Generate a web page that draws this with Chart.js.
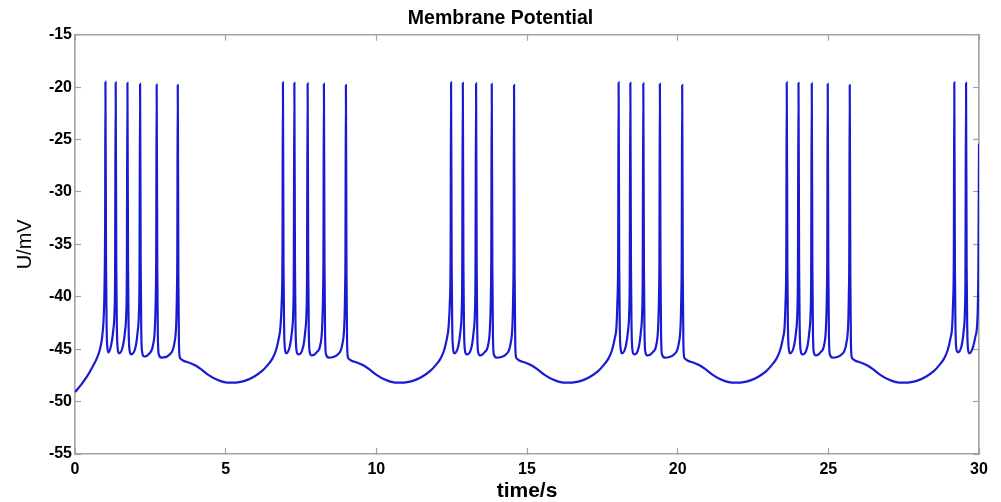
<!DOCTYPE html>
<html>
<head>
<meta charset="utf-8">
<script src="https://cdn.jsdelivr.net/npm/chart.js@4.4.1/dist/chart.umd.min.js"></script>
<style>
  html, body { margin: 0; padding: 0; background: #ffffff; }
  #wrap { width: 1001px; height: 502px; }
</style>
</head>
<body>
<div id="wrap"><canvas id="c" width="1001" height="502"></canvas></div>
<script>
// ---- Data (time in s, membrane potential in mV) ----
const xTicks = [0, 5, 10, 15, 20, 25, 30];
const yTicks = [-55, -50, -45, -40, -35, -30, -25, -20, -15];

const rest0 = [[0.00,-49.1],[0.20,-48.4],[0.40,-47.6],[0.58,-46.7],[0.72,-45.9],[0.82,-45.1],[0.89,-44.1],[0.94,-42.6],[0.97,-40.5],[0.99,-37],[1.00,-33]];

const burst1 = [[1.01,-19.5],[1.03,-37],[1.05,-43],[1.08,-45.0],[1.11,-45.3],
  [1.20,-44.6],[1.27,-43.2],[1.31,-41.5],[1.33,-38],[1.35,-19.55],[1.37,-37],[1.39,-43],[1.42,-45.0],[1.46,-45.4],
  [1.59,-44.7],[1.66,-43.3],[1.70,-41.6],[1.72,-38],[1.74,-19.6],[1.76,-37],[1.78,-43],[1.81,-45.1],[1.86,-45.5],
  [2.01,-44.8],[2.08,-43.3],[2.12,-41.6],[2.14,-38],[2.16,-19.7],[2.18,-37],[2.20,-43.5],[2.23,-45.3],[2.29,-45.7],
  [2.47,-45.4],[2.59,-44.6],[2.65,-43.0],[2.68,-40],[2.695,-36],[2.71,-19.75],[2.73,-37],[2.75,-43.8],[2.78,-45.5],[2.87,-45.8],
  [3.14,-45.5],[3.30,-44.4],[3.36,-42.5],[3.38,-40],[3.395,-36],[3.41,-19.8],[3.43,-38],[3.45,-44.5],[3.48,-45.8],[3.50,-45.9]];

const rest1 = [[3.60,-46.1],[3.80,-46.3],[4.00,-46.55],[4.20,-46.95],[4.45,-47.5],[4.70,-47.9],[4.95,-48.15],[5.20,-48.2],[5.45,-48.15],[5.70,-47.95],[5.95,-47.6],[6.20,-47.1],[6.40,-46.5],[6.55,-45.9],[6.67,-45.1],[6.76,-44.0],[6.82,-42.8],[6.86,-40.5],[6.885,-36]];

const burst2 = [[6.90,-19.55],[6.92,-37],[6.94,-43],[6.97,-45.0],[7.01,-45.4],
  [7.13,-44.7],[7.20,-43.3],[7.24,-41.6],[7.26,-38],[7.28,-19.6],[7.30,-37],[7.32,-43],[7.35,-45.1],[7.40,-45.5],
  [7.57,-44.8],[7.64,-43.3],[7.68,-41.6],[7.70,-38],[7.72,-19.65],[7.74,-37],[7.76,-43.5],[7.79,-45.3],[7.85,-45.6],
  [8.02,-45.3],[8.14,-44.6],[8.20,-43.0],[8.23,-40],[8.245,-36],[8.26,-19.7],[8.28,-37],[8.30,-43.8],[8.33,-45.5],[8.42,-45.8],
  [8.72,-45.5],[8.88,-44.4],[8.94,-42.5],[8.96,-40],[8.975,-36],[8.99,-19.8],[9.01,-38],[9.03,-44.5],[9.06,-45.8],[9.08,-45.9]];

const rest2 = [[9.18,-46.1],[9.38,-46.3],[9.58,-46.55],[9.78,-46.95],[10.03,-47.5],[10.28,-47.9],[10.53,-48.15],[10.78,-48.2],[11.03,-48.15],[11.28,-47.95],[11.53,-47.6],[11.78,-47.1],[11.98,-46.5],[12.13,-45.9],[12.25,-45.1],[12.34,-44.0],[12.40,-42.8],[12.44,-40.5],[12.465,-36]];

const burst3 = [[12.48,-19.55],[12.50,-37],[12.52,-43],[12.55,-45.0],[12.59,-45.4],
  [12.72,-44.7],[12.79,-43.3],[12.83,-41.6],[12.85,-38],[12.87,-19.6],[12.89,-37],[12.91,-43],[12.94,-45.1],[12.99,-45.5],
  [13.16,-44.8],[13.23,-43.3],[13.27,-41.6],[13.29,-38],[13.31,-19.65],[13.33,-37],[13.35,-43.5],[13.38,-45.3],[13.44,-45.6],
  [13.59,-45.3],[13.71,-44.6],[13.77,-43.0],[13.80,-40],[13.815,-36],[13.83,-19.7],[13.85,-37],[13.87,-43.8],[13.90,-45.5],[13.99,-45.8],
  [14.30,-45.5],[14.46,-44.4],[14.52,-42.5],[14.54,-40],[14.555,-36],[14.57,-19.8],[14.59,-38],[14.61,-44.5],[14.64,-45.8],[14.66,-45.9]];

const rest3 = [[14.76,-46.1],[14.96,-46.3],[15.16,-46.55],[15.36,-46.95],[15.61,-47.5],[15.86,-47.9],[16.11,-48.15],[16.36,-48.2],[16.61,-48.15],[16.86,-47.95],[17.11,-47.6],[17.36,-47.1],[17.55,-46.5],[17.70,-45.9],[17.82,-45.1],[17.91,-44.0],[17.97,-42.8],[18.00,-40.5],[18.025,-36]];

const burst4 = [[18.04,-19.55],[18.06,-37],[18.08,-43],[18.11,-45.0],[18.15,-45.4],
  [18.28,-44.7],[18.35,-43.3],[18.39,-41.6],[18.41,-38],[18.43,-19.6],[18.45,-37],[18.47,-43],[18.50,-45.1],[18.55,-45.5],
  [18.71,-44.8],[18.78,-43.3],[18.82,-41.6],[18.84,-38],[18.86,-19.65],[18.88,-37],[18.90,-43.5],[18.93,-45.3],[18.99,-45.6],
  [19.17,-45.3],[19.29,-44.6],[19.35,-43.0],[19.38,-40],[19.395,-36],[19.41,-19.7],[19.43,-37],[19.45,-43.8],[19.48,-45.5],[19.57,-45.8],
  [19.88,-45.5],[20.04,-44.4],[20.10,-42.5],[20.12,-40],[20.135,-36],[20.15,-19.8],[20.17,-38],[20.19,-44.5],[20.22,-45.8],[20.24,-45.9]];

const rest4 = [[20.34,-46.1],[20.54,-46.3],[20.74,-46.55],[20.94,-46.95],[21.19,-47.5],[21.44,-47.9],[21.69,-48.15],[21.94,-48.2],[22.19,-48.15],[22.44,-47.95],[22.69,-47.6],[22.94,-47.1],[23.13,-46.5],[23.28,-45.9],[23.40,-45.1],[23.49,-44.0],[23.55,-42.8],[23.58,-40.5],[23.605,-36]];

const burst5 = [[23.62,-19.55],[23.64,-37],[23.66,-43],[23.69,-45.0],[23.73,-45.4],
  [23.86,-44.7],[23.93,-43.3],[23.97,-41.6],[23.99,-38],[24.01,-19.6],[24.03,-37],[24.05,-43],[24.08,-45.1],[24.13,-45.5],
  [24.30,-44.8],[24.37,-43.3],[24.41,-41.6],[24.43,-38],[24.45,-19.65],[24.47,-37],[24.49,-43.5],[24.52,-45.3],[24.58,-45.6],
  [24.74,-45.3],[24.86,-44.6],[24.92,-43.0],[24.95,-40],[24.965,-36],[24.98,-19.7],[25.00,-37],[25.02,-43.8],[25.05,-45.5],[25.14,-45.8],
  [25.44,-45.5],[25.60,-44.4],[25.66,-42.5],[25.68,-40],[25.695,-36],[25.71,-19.8],[25.73,-38],[25.75,-44.5],[25.78,-45.8],[25.80,-45.9]];

const rest5 = [[25.90,-46.1],[26.10,-46.3],[26.30,-46.55],[26.50,-46.95],[26.75,-47.5],[27.00,-47.9],[27.25,-48.15],[27.50,-48.2],[27.75,-48.15],[28.00,-47.95],[28.25,-47.6],[28.50,-47.1],[28.69,-46.5],[28.84,-45.9],[28.96,-45.1],[29.05,-44.0],[29.11,-42.8],[29.14,-40.5],[29.165,-36]];

const burst6 = [[29.18,-19.55],[29.20,-37],[29.22,-43],[29.25,-45.0],[29.30,-45.3],
  [29.42,-44.7],[29.49,-43.3],[29.53,-41.6],[29.55,-38],[29.57,-19.6],[29.59,-37],[29.61,-43],[29.64,-45.1],[29.68,-45.4],
  [29.80,-44.8],[29.88,-43.8],[29.95,-42.0],[29.98,-37.0],[30.00,-25.4]];

const segments = [rest0, burst1, rest1, burst2, rest2, burst3, rest3, burst4, rest4, burst5, rest5, burst6];
const points = [].concat(...segments).map(([x, y]) => ({ x, y }));

const AXIS_GREY = '#a3a3a3';
const FONT = 'Liberation Sans, Arial, Helvetica, sans-serif';

function axisCommon(min, max) {
  return {
    type: 'linear', min, max,
    afterBuildTicks: s => { s.ticks = (s.axis === 'x' ? xTicks : yTicks).map(v => ({ value: v })); },
    grid: { drawOnChartArea: false, drawTicks: true, tickLength: -6, tickColor: AXIS_GREY, tickWidth: 1.2, color: AXIS_GREY },
    border: { display: true, color: AXIS_GREY, width: 1.6 }
  };
}

new Chart(document.getElementById('c'), {
  type: 'line',
  data: {
    datasets: [{
      data: points,
      borderColor: '#1a1ad2',
      borderWidth: 2.2,
      pointRadius: 0,
      fill: false,
      cubicInterpolationMode: 'monotone'
    }]
  },
  options: {
    responsive: false,
    animation: false,
    events: [],
    layout: { padding: 0 },
    plugins: {
      legend: { display: false },
      tooltip: { enabled: false },
      title: {
        display: true,
        text: 'Membrane Potential',
        color: '#000',
        font: { family: FONT, size: 19.5, weight: 'bold', lineHeight: 1.2 },
        padding: { top: 7, bottom: 4.3 }
      }
    },
    scales: {
      x: Object.assign(axisCommon(0, 30), {
        position: 'bottom',
        ticks: { color: '#000', padding: 12, maxRotation: 0, font: { family: FONT, size: 16, weight: 'bold' } },
        title: { display: true, text: 'time/s', color: '#000', font: { family: FONT, size: 21, weight: 'bold', lineHeight: 1.0 }, padding: { top: 0, bottom: 0 } },
        afterFit: s => { s.height = 48; }
      }),
      x2: Object.assign(axisCommon(0, 30), {
        position: 'top',
        ticks: { display: false },
        afterFit: s => { s.height = 0; }
      }),
      y: Object.assign(axisCommon(-55, -15), {
        position: 'left',
        ticks: { color: '#000', padding: 9, font: { family: FONT, size: 16, weight: 'bold' } },
        title: { display: true, text: 'U/mV', color: '#000', font: { family: FONT, size: 20, weight: 'normal', lineHeight: 1.2 }, padding: { top: 13, bottom: 0 } },
        afterFit: s => { s.width = 75; }
      }),
      y2: Object.assign(axisCommon(-55, -15), {
        position: 'right',
        ticks: { display: false },
        afterFit: s => { s.width = 22; }
      })
    }
  }
});
</script>
</body>
</html>
